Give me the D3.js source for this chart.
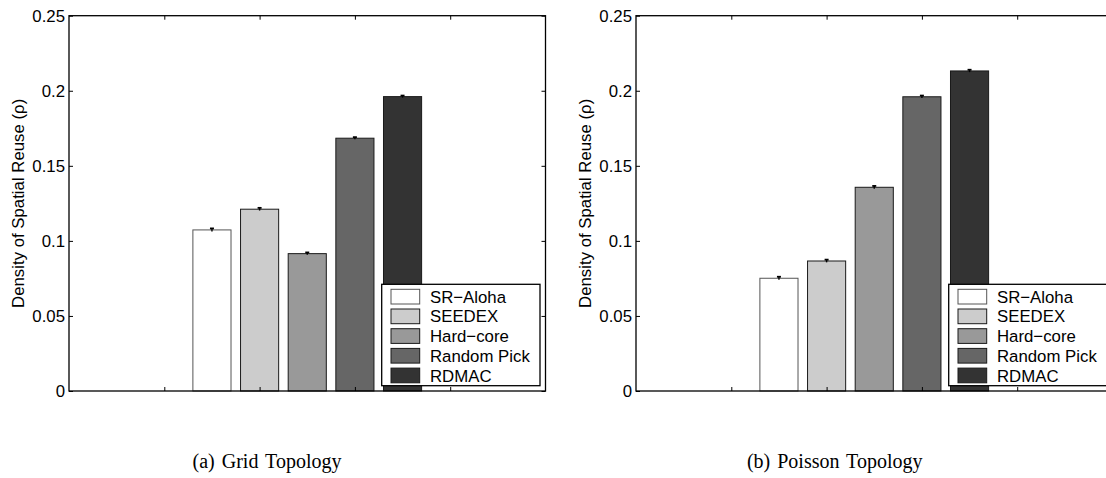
<html>
<head>
<script src="https://d3js.org/d3.v7.min.js"></script>
<style>
  body { margin: 0; background: #fff; }
  text { font-family: "Liberation Sans", Arial, sans-serif; }
</style>
</head>
<body>
<script>

    // data
    let methods = ["SR\u2212Aloha", "SEEDEX", "Hard\u2212core", "Random Pick", "RDMAC"];
    let fills = ["#ffffff", "#cccccc", "#999999", "#666666", "#333333"];

    let gridValues = [0.1073, 0.1211, 0.0915, 0.1684, 0.1961];
    let gridErrors = [0.0010, 0.0009, 0.0008, 0.0007, 0.0007];

    let poissonValues = [0.0751, 0.0866, 0.1357, 0.1960, 0.2132];
    let poissonErrors = [0.0010, 0.0009, 0.0009, 0.0008, 0.0008];

    let yTicks = [0, 0.05, 0.1, 0.15, 0.2, 0.25];
    let yTickLabels = ["0", "0.05", "0.1", "0.15", "0.2", "0.25"];
    let xTicks = [1, 2, 3, 4];

    let yLabel = "Density of Spatial Reuse (\u03c1)";
    let captions = ["(a) Grid Topology", "(b) Poisson Topology"];

    let svg = d3.select("body").append("svg")
        .attr("width", 1106)
        .attr("height", 478);

    let axTop = 15.7, axBottom = 391, axW = 476.5;

    let y = d3.scaleLinear().domain([0, 0.25]).range([axBottom, axTop]);

    function drawPanel(left, values, errors, caption, captionX) {
        let x = d3.scaleLinear().domain([0, 5]).range([left, left + axW]);
        let g = svg.append("g");

        // bars
        values.forEach((v, i) => {
            let c = 2.5 + (i - 2) * 0.5;
            g.append("rect")
                .attr("x", x(c - 0.2))
                .attr("y", y(v))
                .attr("width", x(c + 0.2) - x(c - 0.2))
                .attr("height", y(0) - y(v))
                .attr("fill", fills[i])
                .attr("stroke", i == 0 ? "#555" : "#1a1a1a")
                .attr("stroke-width", 1);

            // error bar
            let e = errors[i], cx = x(c);
            g.append("line")
                .attr("x1", cx).attr("x2", cx)
                .attr("y1", y(v - e)).attr("y2", y(v + e))
                .attr("stroke", "#000").attr("stroke-width", 1.4);
            g.append("line")
                .attr("x1", cx - 2).attr("x2", cx + 2)
                .attr("y1", y(v + e)).attr("y2", y(v + e))
                .attr("stroke", "#000").attr("stroke-width", 1.8);
        });

        // ticks, all pointing inwards (box on)
        g.append("g").attr("transform", `translate(0,${axBottom})`)
            .call(d3.axisBottom(x).tickValues(xTicks).tickSize(-4).tickFormat(""))
            .call(a => a.select(".domain").remove());
        g.append("g").attr("transform", `translate(0,${axTop})`)
            .call(d3.axisTop(x).tickValues(xTicks).tickSize(-4).tickFormat(""))
            .call(a => a.select(".domain").remove());
        g.append("g").attr("transform", `translate(${left + axW},0)`)
            .call(d3.axisRight(y).tickValues(yTicks).tickSize(-4).tickFormat(""))
            .call(a => a.select(".domain").remove());
        let yAx = g.append("g").attr("transform", `translate(${left},0)`)
            .call(d3.axisLeft(y).tickValues(yTicks).tickSize(-4).tickPadding(4)
                .tickFormat((d, i) => yTickLabels[i]))
            .call(a => a.select(".domain").remove());
        yAx.selectAll("text")
            .attr("font-size", 16.8)
            .attr("font-family", "Liberation Sans, Arial, sans-serif")
            .attr("fill", "#000");

        // axes box
        g.append("rect")
            .attr("x", left).attr("y", axTop)
            .attr("width", axW).attr("height", axBottom - axTop)
            .attr("fill", "none")
            .attr("stroke", "#000")
            .attr("stroke-width", 1.3);

        // y label
        g.append("text")
            .attr("transform", `translate(${left - 45},${(axTop + axBottom) / 2}) rotate(-90)`)
            .attr("text-anchor", "middle")
            .attr("font-size", 16.8)
            .text(yLabel);

        // legend
        let lx = left + 312.7, ly = 284.3;
        let leg = g.append("g");
        leg.append("rect")
            .attr("x", lx).attr("y", ly)
            .attr("width", 158.3).attr("height", 101.4)
            .attr("fill", "#fff")
            .attr("stroke", "#000")
            .attr("stroke-width", 1.3);
        methods.forEach((m, i) => {
            let ry = ly + 5 + i * 19.7;
            leg.append("rect")
                .attr("x", lx + 9.3).attr("y", ry)
                .attr("width", 28.7).attr("height", 14.7)
                .attr("fill", fills[i])
                .attr("stroke", i == 0 ? "#555" : "#1a1a1a")
                .attr("stroke-width", 1);
            leg.append("text")
                .attr("x", lx + 48.3)
                .attr("y", ry + 13.4)
                .attr("font-size", 16.8)
                .text(m);
        });

        // caption
        svg.append("text")
            .attr("x", captionX)
            .attr("y", 468.3)
            .attr("text-anchor", "middle")
            .style("font-family", "Liberation Serif, Times New Roman, serif")
            .style("word-spacing", "2px")
            .attr("font-size", 20)
            .text(caption);
    }

    drawPanel(69, gridValues, gridErrors, captions[0], 267);
    drawPanel(636, poissonValues, poissonErrors, captions[1], 834.7);

</script>
</body>
</html>
